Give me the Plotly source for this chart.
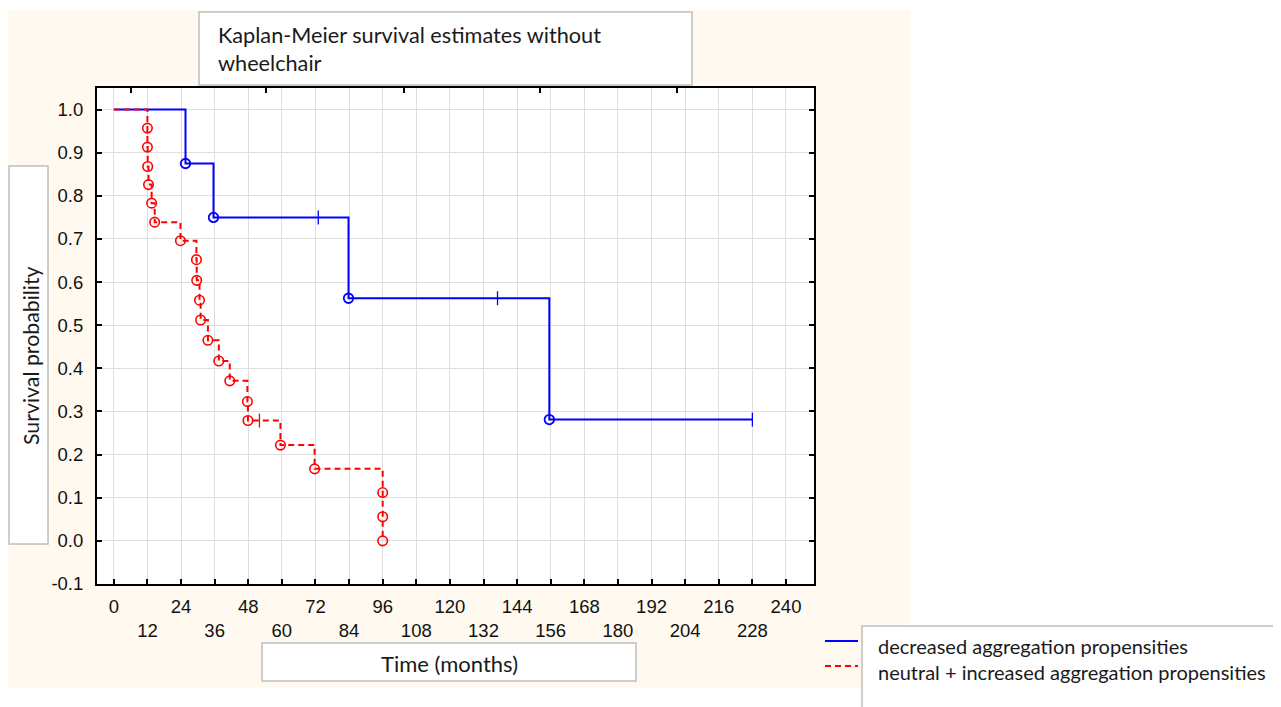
import plotly.graph_objects as go

# ---------------- data ----------------
blue_event_time = [0, 25.6, 35.6, 83.8, 155.5]
blue_event_surv = [1.0, 0.875, 0.75, 0.5625, 0.28125]
blue_cens_time = [73.0, 137.0, 228.0]
blue_cens_surv = [0.75, 0.5625, 0.28125]

red_event_time = [0, 12.0, 12.0, 12.1, 12.4, 13.5, 14.6, 23.8, 29.5, 29.6, 30.6, 31.0,
                  33.6, 37.5, 41.4, 47.7, 47.9, 59.5, 71.7, 96.0, 96.0, 96.0]
red_event_surv = [1.0, 0.957, 0.913, 0.868, 0.826, 0.783, 0.739, 0.696, 0.652, 0.604, 0.558, 0.512,
                  0.465, 0.417, 0.371, 0.323, 0.279, 0.222, 0.167, 0.112, 0.056, 0.0]
red_cens_time = [52.0]
red_cens_surv = [0.279]

x_ticks = list(range(0, 241, 12))
x_top_ticks = [6.2, 54.5, 103.5, 152.1, 201.0]
y_ticks = [round(-0.1 + 0.1 * i, 1) for i in range(12)]

series_names = ["decreased aggregation propensities",
                "neutral + increased aggregation propensities"]
title_text = "Kaplan-Meier survival estimates without<br>wheelchair"
x_title = "Time (months)"
y_title = "Survival probability"

BLUE = "#0000FF"
RED = "#FF0000"


def merged(et, es, ct, cs):
    pts = sorted(list(zip(et, es)) + list(zip(ct, cs)), key=lambda p: (p[0], -p[1]))
    return [p[0] for p in pts], [p[1] for p in pts]


fig = go.Figure()

bx, by = merged(blue_event_time, blue_event_surv, blue_cens_time, blue_cens_surv)
rx, ry = merged(red_event_time, red_event_surv, red_cens_time, red_cens_surv)

fig.add_trace(go.Scatter(x=bx, y=by, mode="lines", line=dict(color=BLUE, width=2, shape="hv"),
                         name=series_names[0], showlegend=False, hoverinfo="skip"))
fig.add_trace(go.Scatter(x=rx, y=ry, mode="lines",
                         line=dict(color=RED, width=2, shape="hv", dash="6px,4px"),
                         name=series_names[1], showlegend=False, hoverinfo="skip"))
# event markers (open circles), skipping the starting point
fig.add_trace(go.Scatter(x=blue_event_time[1:], y=blue_event_surv[1:], mode="markers",
                         marker=dict(symbol="circle-open", size=9.5, color=BLUE, line=dict(width=1.8)),
                         showlegend=False))
fig.add_trace(go.Scatter(x=red_event_time[1:], y=red_event_surv[1:], mode="markers",
                         marker=dict(symbol="circle-open", size=9.5, color=RED, line=dict(width=1.6)),
                         showlegend=False))
# censor marks
fig.add_trace(go.Scatter(x=blue_cens_time, y=blue_cens_surv, mode="markers",
                         marker=dict(symbol="line-ns-open", size=10, color=BLUE, line=dict(width=1.3, color=BLUE)),
                         showlegend=False))
fig.add_trace(go.Scatter(x=red_cens_time, y=red_cens_surv, mode="markers",
                         marker=dict(symbol="line-ns-open", size=10, color=RED, line=dict(width=1.3, color=RED)),
                         showlegend=False))
# empty trace so the top tick axis is drawn
fig.add_trace(go.Scatter(x=[None], y=[None], xaxis="x2", yaxis="y", showlegend=False, hoverinfo="skip"))

# ---------------- layout geometry ----------------
# the page body has an 8px margin, so the figure is drawn 8px smaller and
# all reference pixel positions are offset by 8px
OFF = 8
W, H = 1281 - OFF, 707 - OFF
PL, PR, PT, PB = 97 - OFF, 814 - OFF, 88 - OFF, 584 - OFF  # plot area in figure pixels


def px(xp):
    return (xp - OFF - PL) / (PR - PL)


def py(yp):
    return (PB - (yp - OFF)) / (PB - PT)


def box(x0, y0, x1, y1, fill="white", line="#BFBFBF", lw=1.5):
    return dict(type="rect", xref="paper", yref="paper", x0=px(x0), x1=px(x1), y0=py(y1), y1=py(y0),
                fillcolor=fill, line=dict(color=line, width=lw), layer="below")


shapes = [
    box(8, 10, 910, 688, fill="#FFF9F0", line="rgba(0,0,0,0)", lw=0),
    box(97, 88, 814, 584, fill="white", line="rgba(0,0,0,0)", lw=0),
    box(199, 12, 692, 85),
    box(9, 166, 48, 544),
    box(262, 643, 636, 681),
    box(862, 626, 1300, 720),
    dict(type="line", xref="paper", yref="paper", x0=px(825), x1=px(858), y0=py(641), y1=py(641),
         line=dict(color=BLUE, width=2)),
    dict(type="line", xref="paper", yref="paper", x0=px(825), x1=px(858), y0=py(666), y1=py(666),
         line=dict(color=RED, width=2, dash="6px,4px")),
]

TXT = "Lato, 'Open Sans', sans-serif"
annotations = [
    dict(xref="paper", yref="paper", x=px(216), y=py(20), xanchor="left", yanchor="top",
         text=title_text, showarrow=False, align="left", font=dict(family=TXT, size=21.7, color="#1a1a1a")),
    dict(xref="paper", yref="paper", x=px(31), y=py(356), xanchor="center", yanchor="middle",
         text=y_title, textangle=-90, showarrow=False, font=dict(family=TXT, size=21.3, color="#1a1a1a")),
    dict(xref="paper", yref="paper", x=px(449), y=py(663), xanchor="center", yanchor="middle",
         text=x_title, showarrow=False, font=dict(family=TXT, size=22, color="#1a1a1a")),
    dict(xref="paper", yref="paper", x=px(876), y=py(659), xanchor="left", yanchor="middle",
         text=series_names[0] + "<br>" + series_names[1], showarrow=False, align="left",
         font=dict(family=TXT, size=20, color="#1a1a1a")),
]

x_text = [str(v) if v % 24 == 0 else "<br>" + str(v) for v in x_ticks]
y_text = ["%.1f" % v for v in y_ticks]

TICKF = dict(family="'Liberation Sans', Arial, sans-serif", size=18.5, color="#111111")
XRANGE = [-6, 250]

fig.update_layout(
    width=W, height=H,
    margin=dict(l=PL, r=W - PR, t=PT, b=H - PB, pad=0),
    paper_bgcolor="white", plot_bgcolor="white",
    showlegend=False,
    shapes=shapes, annotations=annotations,
    xaxis=dict(range=XRANGE, tickmode="array", tickvals=x_ticks, ticktext=x_text,
               showgrid=True, gridcolor="#DEDEDE", gridwidth=1, zeroline=False,
               showline=True, linecolor="black", linewidth=2, mirror=True,
               ticks="inside", ticklen=5, tickwidth=1.5, tickcolor="black",
               tickfont=TICKF, ticklabelstandoff=5, fixedrange=True),
    xaxis2=dict(range=XRANGE, overlaying="x", side="top", anchor="y",
                tickmode="array", tickvals=x_top_ticks, showticklabels=False,
                showgrid=False, zeroline=False, showline=False,
                ticks="inside", ticklen=5, tickwidth=1.5, tickcolor="black", fixedrange=True),
    yaxis=dict(range=[-0.1, 1.05], tickmode="array", tickvals=y_ticks, ticktext=y_text,
               showgrid=True, gridcolor="#DEDEDE", gridwidth=1, zeroline=False,
               showline=True, linecolor="black", linewidth=2, mirror="ticks",
               ticks="inside", ticklen=5, tickwidth=1.5, tickcolor="black",
               tickfont=TICKF, ticklabelstandoff=8, fixedrange=True),
)

fig.write_html("out.html")
